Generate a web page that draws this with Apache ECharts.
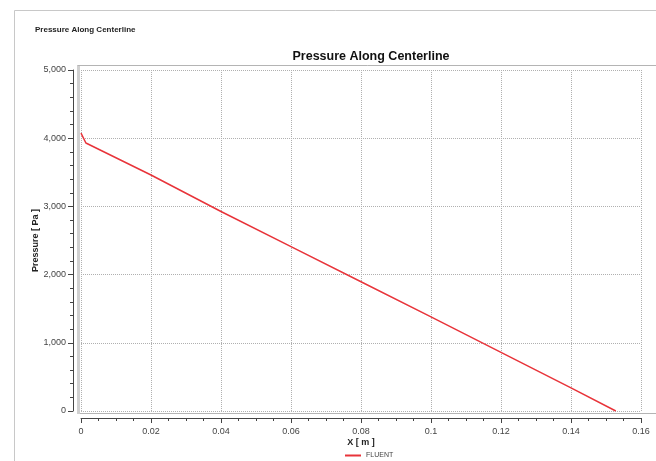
<!DOCTYPE html>
<html>
<head>
<meta charset="utf-8">
<script src="https://cdn.jsdelivr.net/npm/echarts@6/dist/echarts.min.js"></script>
<style>
  html, body { margin: 0; padding: 0; background: #fff; }
  #chart { width: 656px; height: 461px; }
</style>
</head>
<body>
<div id="chart"></div>
<script>
// values
const xPos = [0, 0.0014, 0.02, 0.04, 0.06, 0.08, 0.1, 0.12, 0.14, 0.1528];
const pressure = [4075, 3930, 3460, 2925, 2410, 1895, 1380, 860, 340, 0];
const seriesName = 'FLUENT';

const FONT = '"Liberation Sans", Arial, sans-serif';
const chart = echarts.init(document.getElementById('chart'), null, { renderer: 'canvas' });

const option = {
  animation: false,
  backgroundColor: '#fff',
  title: [
    { text: 'Pressure Along Centerline', left: 30, top: 21,
      textStyle: { fontFamily: FONT, fontSize: 8, fontWeight: 'bold', color: '#222' } },
    { text: 'Pressure Along Centerline', left: 366, top: 45, textAlign: 'center',
      textStyle: { fontFamily: FONT, fontSize: 12.5, fontWeight: 'bold', color: '#111' } }
  ],
  legend: {
    data: [seriesName], left: 340, top: 447,
    icon: 'rect', itemWidth: 16, itemHeight: 2, itemGap: 6,
    textStyle: { fontFamily: FONT, fontSize: 7, color: '#444' }
  },
  graphic: [
    { type: 'rect', silent: true, z: -1, shape: { x: 14.5, y: 10.5, width: 700, height: 500 },
      style: { fill: 'none', stroke: '#c8c8c8', lineWidth: 1 } },
    { type: 'rect', silent: true, z: -1, shape: { x: 77.5, y: 65.5, width: 620, height: 348 },
      style: { fill: 'none', stroke: '#b4b4b4', lineWidth: 1 } },
    { type: 'rect', silent: true, z: -1, shape: { x: 77, y: 66, width: 3, height: 348 },
      style: { fill: '#d0d0d0' } }
  ],
  grid: { left: 81, right: 15, top: 70, bottom: 50, containLabel: false },
  xAxis: {
    type: 'value', min: 0, max: 0.16, interval: 0.02, offset: 7,
    name: 'X [ m ]', nameLocation: 'middle', nameGap: 20, nameMoveOverlap: false,
    nameTextStyle: { fontFamily: FONT, fontSize: 9, fontWeight: 'bold', color: '#222' },
    axisLine: { show: true, onZero: false, lineStyle: { color: '#444', width: 1 } },
    axisTick: { show: true, length: 5, lineStyle: { color: '#444' } },
    minorTick: { show: true, splitNumber: 4, length: 3, lineStyle: { color: '#444' } },
    axisLabel: { margin: 9, fontFamily: FONT, fontSize: 9, color: '#444',
      formatter: v => String(+v.toFixed(2)) },
    splitLine: { show: true, lineStyle: { color: '#b0b0b0', type: 'dotted', width: 1 } }
  },
  yAxis: {
    type: 'value', min: 0, max: 5000, interval: 1000, offset: 8,
    name: 'Pressure [ Pa ]', nameLocation: 'middle', nameGap: 33, nameMoveOverlap: false,
    nameTextStyle: { fontFamily: FONT, fontSize: 9, fontWeight: 'bold', color: '#222' },
    axisLine: { show: true, onZero: false, lineStyle: { color: '#444', width: 1 } },
    axisTick: { show: true, length: 5, lineStyle: { color: '#444' } },
    minorTick: { show: true, splitNumber: 5, length: 3, lineStyle: { color: '#444' } },
    axisLabel: { margin: 7, fontFamily: FONT, fontSize: 9, color: '#444',
      formatter: v => v.toLocaleString('en-US') },
    splitLine: { show: true, lineStyle: { color: '#b0b0b0', type: 'dotted', width: 1 } }
  },
  series: [{
    name: seriesName,
    type: 'line',
    data: xPos.map((x, i) => [x, pressure[i]]),
    showSymbol: false,
    lineStyle: { color: '#e8343a', width: 1.5 },
    itemStyle: { color: '#e8343a' }
  }]
};

chart.setOption(option);
</script>
</body>
</html>
